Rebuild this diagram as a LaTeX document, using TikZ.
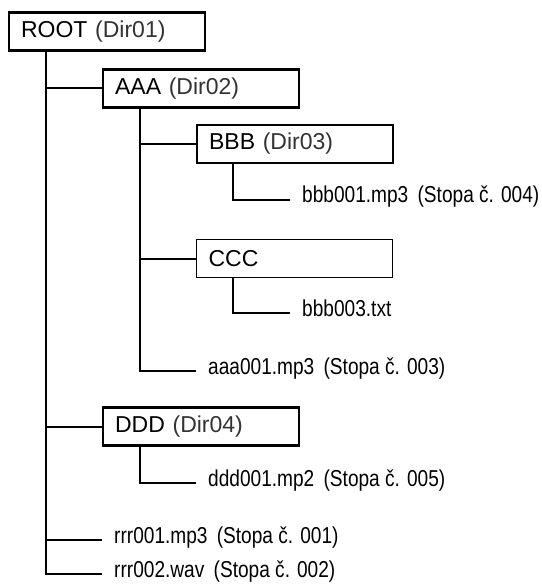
\documentclass[tikz,border=0pt]{standalone}
\usepackage{fontspec}
\setmainfont{Liberation Sans}
\newfontfamily\narrowfont[FakeStretch=0.83]{Liberation Sans}
\usepackage{xcolor}
\usetikzlibrary{positioning}
\newcommand{\dirnum}[1]{\textcolor{black!80}{(#1)}}
\newcommand{\stopa}[1]{\hspace{4pt}(Stopa č. #1)}
\tikzset{
  dirbox/.style={draw, line width=2.2pt, anchor=west, minimum height=38pt,
    text width=172pt, inner xsep=12pt, align=left,
    font=\fontsize{23}{27}\selectfont},
  plainbox/.style={dirbox, line width=1.2pt},
  filename/.style={anchor=west, inner xsep=12pt, inner ysep=0pt,
    text height=10pt, text depth=4pt, font=\narrowfont\fontsize{23}{27}\selectfont},
  link/.style={line width=2pt}
}

\begin{document}
\begin{tikzpicture}[x=1pt, y=-1pt]
	\useasboundingbox (0,0) rectangle (541,585);
	% folders
	\node[dirbox] (root) at (8,31.5) {ROOT \dirnum{Dir01}};
	\node[dirbox] (aaa) at (102,88.5) {AAA \dirnum{Dir02}};
	\node[dirbox] (bbb) at (196,144) {BBB \dirnum{Dir03}};
	\node[plainbox] (ccc) at (196,258.5) {CCC};
	\node[dirbox] (ddd) at (102,426.5) {DDD \dirnum{Dir04}};
	% files
	\node[filename] (bbbmp) at (290,200) {bbb001.mp3 \stopa{004}};
	\node[filename] (bbbtxt) at (290,313) {bbb003.txt};
	\node[filename] (aaamp) at (196,371) {aaa001.mp3 \stopa{003}};
	\node[filename] (dddmp) at (196,483) {ddd001.mp2 \stopa{005}};
	\node[filename] (rrrmp) at (102,540) {rrr001.mp3 \stopa{001}};
	\node[filename] (rrrwav) at (102,574) {rrr002.wav \stopa{002}};
	% tree lines
	\foreach \kid in {aaa,ddd,rrrmp,rrrwav}
		\draw[link] ([xshift=38pt]root.south west) |- (\kid);
	\foreach \kid in {bbb,ccc,aaamp}
		\draw[link] ([xshift=38pt]aaa.south west) |- (\kid);
	\draw[link] ([xshift=37pt]bbb.south west) |- (bbbmp);
	\draw[link] ([xshift=37pt]ccc.south west) |- (bbbtxt);
	\draw[link] ([xshift=38pt]ddd.south west) |- (dddmp);
\end{tikzpicture}
\end{document}
